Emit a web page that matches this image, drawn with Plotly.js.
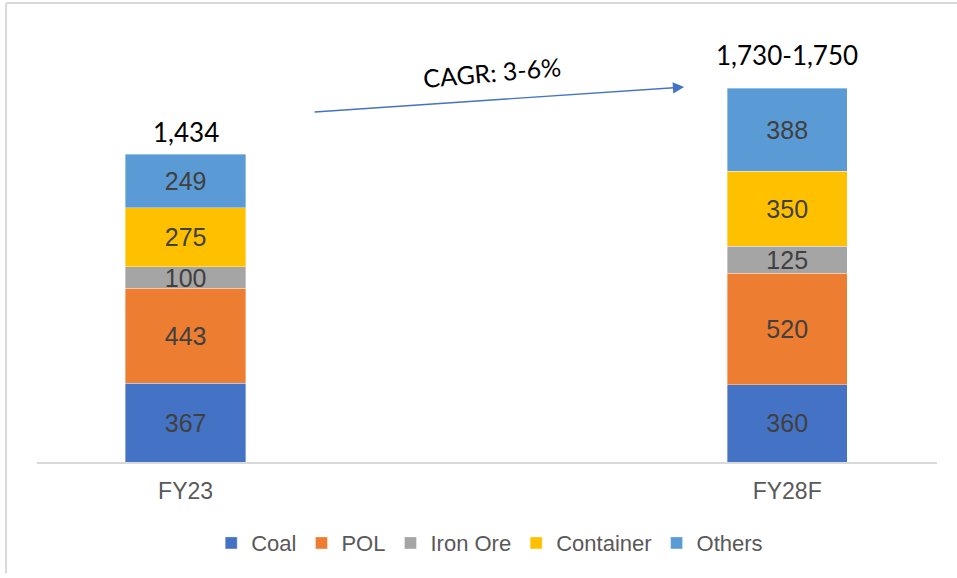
<!DOCTYPE html>
<html>
<head>
<meta charset="utf-8">
<script src="https://cdn.plot.ly/plotly-3.0.1.min.js"></script>
<style>
html,body{margin:0;padding:0;background:#fff;}
#chart{width:957px;height:578px;}
</style>
</head>
<body>
<div id="chart"></div>
<script>
const categories = ['FY23', 'FY28F'];
const coal = [367, 360];
const pol = [443, 520];
const ironOre = [100, 125];
const container = [275, 350];
const others = [249, 388];
const totalLabels = ['1,434', '1,730-1,750'];
const seriesNames = ['Coal', 'POL', 'Iron Ore', 'Container', 'Others'];
const seriesColors = ['#4472C4', '#ED7D31', '#A5A5A5', '#FFC000', '#5B9BD5'];
const seriesValues = [coal, pol, ironOre, container, others];

const traces = seriesValues.map((vals, i) => ({
  type: 'bar',
  name: seriesNames[i],
  x: categories,
  y: vals,
  width: 0.2,
  marker: {color: seriesColors[i], line: {color: 'rgba(255,255,255,0.6)', width: 0.6}},
  text: vals.map(v => String(v)),
  texttemplate: '%{text}',
  textposition: 'inside',
  insidetextanchor: 'middle',
  constraintext: 'none',
  textangle: 0,
  textfont: {family: 'Liberation Sans, Arial, sans-serif', size: 25, color: '#404040'},
  hoverinfo: 'skip'
}));

const totals = categories.map((c, j) => seriesValues.reduce((s, arr) => s + arr[j], 0));

const annotations = categories.map((c, j) => ({
  x: c, y: totals[j], xref: 'x', yref: 'y',
  text: totalLabels[j], showarrow: false,
  xanchor: 'center', yanchor: 'bottom', yshift: j === 0 ? 4 : 15,
  font: {family: 'Lato, Carlito, sans-serif', size: 26, color: '#000000'}
}));

// growth arrow
annotations.push({
  xref: 'paper', yref: 'paper', x: 0.719, y: 0.874,
  axref: 'pixel', ayref: 'pixel', ax: -371, ay: 25,
  text: '', showarrow: true, arrowhead: 2, arrowsize: 1.6, arrowwidth: 1.4,
  arrowcolor: '#4472C4', standoff: 0
});
annotations.push({
  xref: 'paper', yref: 'paper', x: 0.506, y: 0.908,
  xanchor: 'center', yanchor: 'middle',
  text: 'CAGR: 3-6%', showarrow: false, textangle: -5,
  font: {family: 'Lato, Carlito, sans-serif', size: 25, color: '#000000'}
});

const layout = {
  width: 957, height: 578,
  margin: {l: 37, r: 20, t: 33, b: 116},
  paper_bgcolor: '#ffffff', plot_bgcolor: '#ffffff',
  barmode: 'stack',
  showlegend: true,
  legend: {
    orientation: 'h', x: 0.503, xanchor: 'center', y: -0.189, yanchor: 'middle',
    font: {family: 'Liberation Sans, Arial, sans-serif', size: 22, color: '#595959'},
    traceorder: 'normal', itemclick: false, itemdoubleclick: false
  },
  xaxis: {
    type: 'category', range: [-0.247, 1.249], fixedrange: true,
    showline: true, linecolor: '#D9D9D9', linewidth: 2,
    showgrid: false, zeroline: false, ticks: '',
    ticklabelstandoff: 7,
    tickfont: {family: 'Liberation Sans, Arial, sans-serif', size: 23, color: '#595959'}
  },
  yaxis: {
    range: [0, 2000], visible: false, showgrid: false, zeroline: false, fixedrange: true
  },
  annotations: annotations,
  shapes: [
    {type: 'line', xref: 'paper', yref: 'paper', x0: -0.0344, x1: -0.0344, y0: -0.26, y1: 1.07,
     line: {color: '#D9D9D9', width: 2}},
    {type: 'line', xref: 'paper', yref: 'paper', x0: -0.0344, x1: 1.03, y0: 1.07, y1: 1.07,
     line: {color: '#D9D9D9', width: 2}}
  ],
  hovermode: false
};

Plotly.newPlot('chart', traces, layout, {displayModeBar: false, staticPlot: true});
</script>
</body>
</html>
